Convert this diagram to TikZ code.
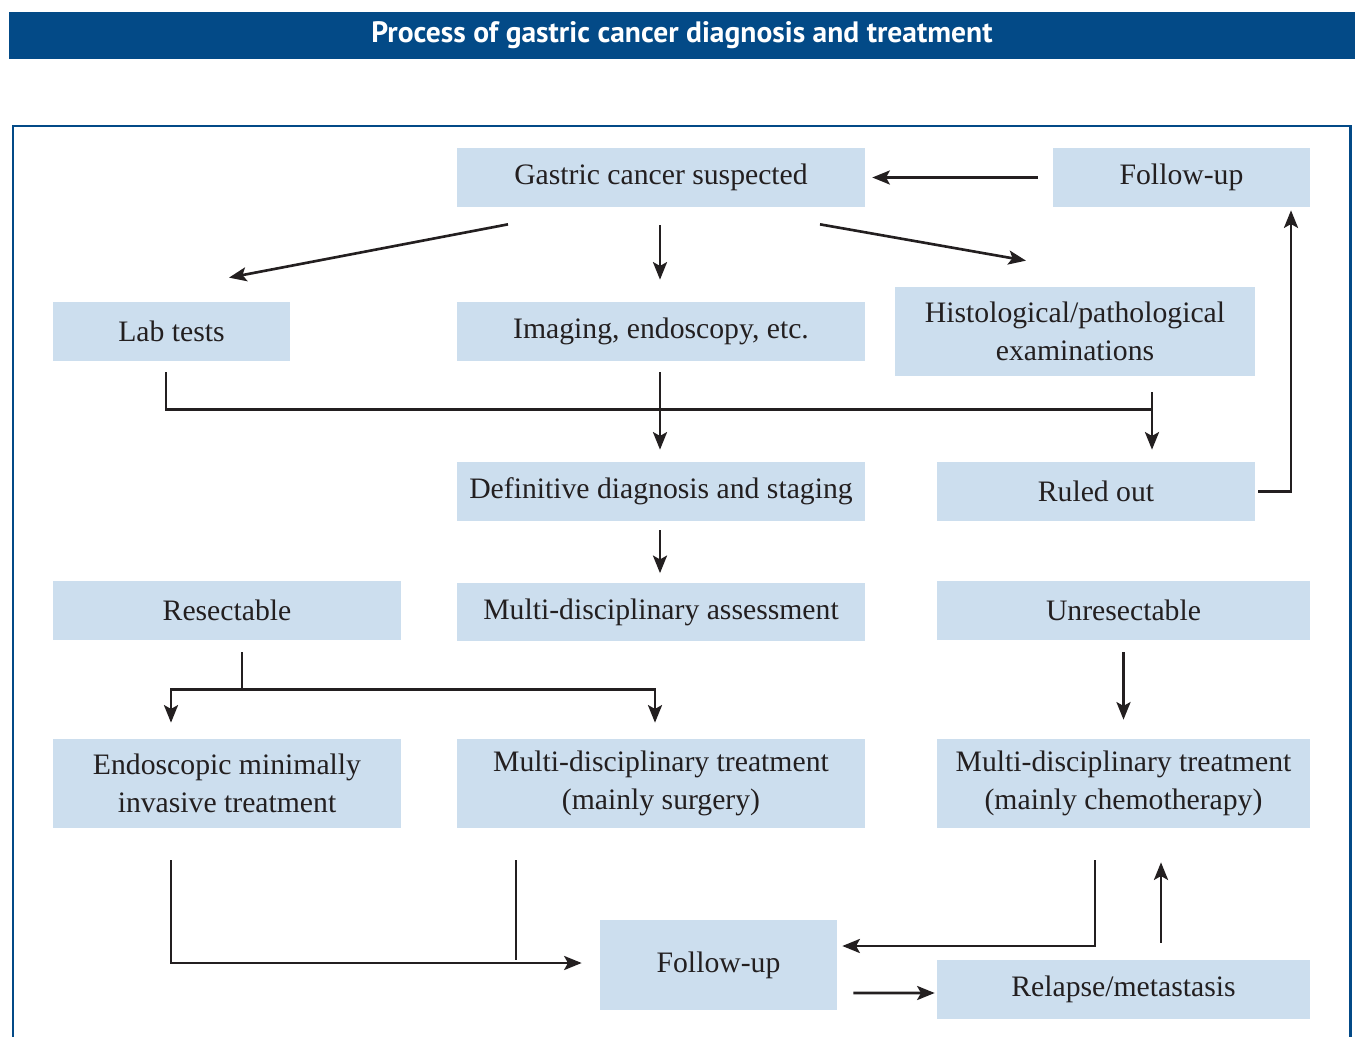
\documentclass[tikz,border=0pt]{standalone}
\usepackage{fontspec}
\setmainfont{Liberation Serif}
\newfontfamily\titlefont{PT Sans}
\usetikzlibrary{arrows.meta,calc}
\definecolor{barblue}{HTML}{034A87}
\definecolor{boxblue}{HTML}{CCDEEE}
\definecolor{ink}{HTML}{231F20}
\tikzset{
  >={Stealth[length=10pt,width=8pt,inset=2.2pt]},
  box/.style={fill=boxblue, inner sep=0pt, align=center, text=ink,
    font=\fontsize{16.9}{21.5}\selectfont},
  short/.style={box, minimum height=1.18cm},
  tall/.style={box, minimum height=1.78cm},
  ln/.style={line width=1.5pt, draw=ink},
  arr/.style={ln, ->},
}
\begin{document}
\begin{tikzpicture}[x=0.02cm,y=-0.02cm]
  \useasboundingbox (0,0) rectangle (1357,1037);
  % title and frame
  \node[fill=barblue, minimum width=26.92cm, minimum height=0.94cm, inner sep=0pt,
    text=white, font=\titlefont\bfseries\fontsize{16.8}{18}\selectfont] (title) at (682,35.5)
    {Process of gastric cancer diagnosis and treatment};
  \draw[barblue, line width=1.7pt] (13,1037) -- (13,126) -- (1350,126) -- (1350,1037);
  % boxes
  \node[short, minimum width=8.16cm] (sus) at (661,177.5) {Gastric cancer suspected};
  \node[short, minimum width=5.14cm] (fu1) at (1181.5,177.5) {Follow-up};
  \node[short, minimum width=4.74cm] (lab) at (171.5,331.5) {Lab tests};
  \node[short, minimum width=8.16cm] (img) at (661,331.5) {Imaging, endoscopy, etc.};
  \node[tall, minimum width=7.2cm] (his) at (1075,331.5) {Histological/pathological\\examinations};
  \node[short, minimum width=8.16cm] (dia) at (661,491.5) {Definitive diagnosis and staging};
  \node[short, minimum width=6.36cm] (rul) at (1096,491.5) {Ruled out};
  \node[short, minimum width=6.96cm] (res) at (227,610.5) {Resectable};
  \node[short, minimum width=8.16cm] (mda) at (661,612) {Multi-disciplinary assessment};
  \node[short, minimum width=7.46cm] (unr) at (1123.5,610.5) {Unresectable};
  \node[tall, minimum width=6.96cm] (endo) at (227,783.5) {Endoscopic minimally\\invasive treatment};
  \node[tall, minimum width=8.16cm] (mds) at (661,783.5) {Multi-disciplinary treatment\\(mainly surgery)};
  \node[tall, minimum width=7.46cm] (mdc) at (1123.5,783.5) {Multi-disciplinary treatment\\(mainly chemotherapy)};
  \node[tall, minimum height=1.8cm, minimum width=4.74cm] (fu2) at (718.5,965) {Follow-up};
  \node[short, minimum width=7.46cm] (rel) at (1123.5,989.5) {Relapse/metastasis};
  % arrows from the top
  \draw[arr] ($(fu1.west)+(-15,0)$) -- ($(sus.east)+(7,0)$);
  \draw[arr] ($(sus.south)+(-153,17)$) -- ($(lab.north)+(57.5,-24)$);
  \draw[arr] ($(sus.south)+(-1,18)$) -- ($(img.north)+(-1,-22)$);
  \draw[arr] ($(sus.south)+(159,17)$) -- ($(his.north)+(-49,-26)$);
  % into diagnosis / ruled out
  \draw[ln] ($(lab.south)+(-5.5,11)$) |- ($(rul.north)+(56,-52)$);
  \draw[arr] ($(his.south)+(77,16)$) -- ($(rul.north)+(56,-12)$);
  \draw[arr] ($(img.south)+(-1,11)$) -- ($(dia.north)+(-1,-12)$);
  \draw[arr] ($(rul.east)+(3,0)$) -| ($(fu1.south)+(109.5,3)$);
  \draw[arr] ($(dia.south)+(-1,9)$) -- ($(mda.north)+(-1,-9)$);
  % resectable / unresectable
  \draw[ln] ($(res.south)+(15,12)$) -- ($(res.south)+(15,50)$);
  \draw[ln, <->] ($(endo.north)+(-56,-16)$) |- ($(mds.north)+(-6,-49)$) -- ($(mds.north)+(-6,-16)$);
  \draw[arr] ($(unr.south)+(0,12)$) -- ($(mdc.north)+(0,-19)$);
  % follow-up and relapse
  \draw[arr] ($(endo.south)+(-56,32)$) |- ($(fu2.west)+(-18,-2)$);
  \draw[ln] ($(mds.south)+(-145,32)$) -- ($(mds.south)+(-145,132)$);
  \draw[arr] ($(mdc.south)+(-28.5,32)$) |- ($(fu2.east)+(5,-19)$);
  \draw[arr] ($(fu2.east)+(16,28)$) -- ($(rel.west)+(-2,3.5)$);
  \draw[arr] ($(rel.north)+(37.5,-17)$) -- ($(mdc.south)+(37.5,34)$);
\end{tikzpicture}
\end{document}
